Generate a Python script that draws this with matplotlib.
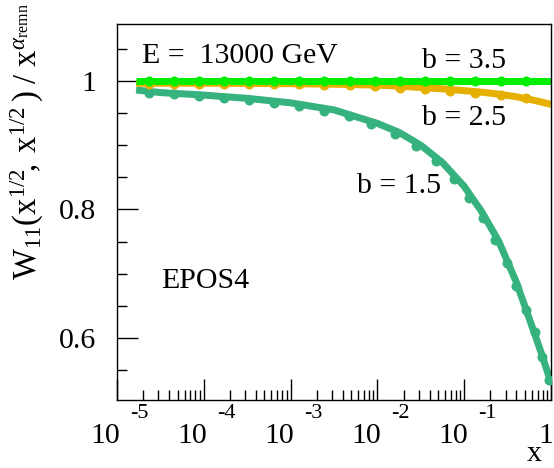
import numpy as np
import matplotlib
matplotlib.use("Agg")
import matplotlib.pyplot as plt
from matplotlib.transforms import blended_transform_factory

plt.rcParams['font.family'] = ['Liberation Serif', 'DejaVu Serif']
plt.rcParams['mathtext.fontset'] = 'custom'
plt.rcParams['mathtext.rm'] = 'Liberation Serif'
plt.rcParams['mathtext.it'] = 'Liberation Serif:italic'
plt.rcParams['mathtext.bf'] = 'Liberation Serif:bold'

# ---------------- data (log10 x, value) ----------------
dot_logx = [-4.63, -4.34, -4.05, -3.77, -3.48, -3.19, -2.90, -2.61,
            -2.32, -2.03, -1.74, -1.45, -1.16, -0.87, -0.58, -0.29]
b35_dots = [1.0, 1.0, 1.0, 1.0, 1.0, 1.0, 1.0, 1.0,
            1.0, 1.0, 1.0, 1.0, 1.0, 1.0, 1.0, 1.0]
b25_dots = [0.996, 0.996, 0.996, 0.996, 0.996, 0.9955, 0.995, 0.9945,
            0.994, 0.992, 0.9896, 0.9875, 0.9849, 0.9818, 0.9782, 0.9731]

b15_dot_logx = [-4.63, -4.34, -4.05, -3.77, -3.48, -3.19, -2.90, -2.62,
                -2.33, -2.07, -1.80, -1.55, -1.32, -1.12, -0.94, -0.78,
                -0.64, -0.51, -0.40, -0.29, -0.19, -0.10, -0.02]
b15_dots = [0.982, 0.979, 0.976, 0.973, 0.970, 0.965, 0.961, 0.954,
            0.945, 0.933, 0.918, 0.899, 0.876, 0.848, 0.818, 0.786,
            0.753, 0.716, 0.681, 0.644, 0.609, 0.571, 0.535]

line_logx = [-4.78, -4.5, -4.0, -3.5, -3.0, -2.5, -2.0, -1.75, -1.5,
             -1.25, -1.0, -0.8, -0.6, -0.4, -0.2, -0.1, 0.0]
b35_line = [1.0, 1.0, 1.0, 1.0, 1.0, 1.0, 1.0, 1.0, 1.0,
            1.0, 1.0, 1.0, 1.0, 1.0, 1.0, 1.0, 1.0]
b25_line = [0.9965, 0.9965, 0.9965, 0.9962, 0.9958, 0.995, 0.9935, 0.992, 0.9898,
            0.9878, 0.9850, 0.9826, 0.9795, 0.9755, 0.9700, 0.967, 0.9635]
b15_line = [0.986, 0.982, 0.978, 0.973, 0.966, 0.955, 0.934, 0.920, 0.900,
            0.873, 0.836, 0.797, 0.750, 0.687, 0.611, 0.572, 0.530]

x_decades = [-5, -4, -3, -2, -1]
y_ticks = [0.6, 0.8, 1.0]
y_ticklabels = ["0.6", "0.8", "1"]

c_green = '#00ee00'
c_orange = '#e6b000'
c_teal = '#36b27f'

# ---------------- figure ----------------
W, H = 554, 468
fig = plt.figure(figsize=(W / 100, H / 100), dpi=100)
ax = fig.add_axes([117 / W, 1 - 400 / H, (551 - 117) / W, (400 - 24) / H])

def px(v):
    return v * 0.72  # pixels -> points at dpi 100

for ly, dy, lx, dx, c in [
        (b15_line, b15_dots, line_logx, b15_dot_logx, c_teal),
        (b25_line, b25_dots, line_logx, dot_logx, c_orange),
        (b35_line, b35_dots, line_logx, dot_logx, c_green)]:
    ax.plot(10 ** np.array(lx), ly, color=c, lw=px(7), solid_capstyle='butt', zorder=2)
    ax.plot(10 ** np.array(dx), dy, 'o', color=c, ms=px(10), mec='none', zorder=3)

ax.set_xscale('log')
ax.set_xlim(1e-5, 1.0)
ax.set_ylim(0.5035, 1.0887)

ax.set_yticks(y_ticks)
ax.set_yticklabels(y_ticklabels)
ax.yaxis.set_minor_locator(matplotlib.ticker.MultipleLocator(0.05))
ax.xaxis.set_major_locator(matplotlib.ticker.LogLocator(base=10, numticks=20))
ax.xaxis.set_minor_locator(matplotlib.ticker.LogLocator(base=10, subs=np.arange(2, 10), numticks=20))
ax.xaxis.set_major_formatter(matplotlib.ticker.NullFormatter())
ax.xaxis.set_minor_formatter(matplotlib.ticker.NullFormatter())

ax.tick_params(which='both', direction='in', top=False, right=False, width=1, color='black')
ax.tick_params(which='major', length=px(21))
ax.tick_params(which='minor', length=px(10))
ax.tick_params(axis='y', which='major', pad=px(21), labelsize=21.5)
for s in ax.spines.values():
    s.set_linewidth(1.0)
    s.set_color('black')

# manual x tick labels (ROOT style)
tr = blended_transform_factory(ax.transData, ax.transAxes)
for d in x_decades:
    ax.annotate("10", xy=(10.0 ** d, 0), xycoords=tr, xytext=(px(3.5), -px(43)),
                textcoords='offset points', ha='right', va='baseline', fontsize=21.5,
                annotation_clip=False)
    ax.annotate("%d" % d, xy=(10.0 ** d, 0), xycoords=tr, xytext=(px(13.5), -px(18)),
                textcoords='offset points', ha='left', va='baseline', fontsize=16,
                annotation_clip=False)
ax.annotate("1", xy=(1.0, 0), xycoords=tr, xytext=(px(2.5), -px(43)),
            textcoords='offset points', ha='right', va='baseline', fontsize=21.5,
            annotation_clip=False)

# axis titles
fig.text(542 / W, 1 - 467 / H, "x", ha='right', va='bottom', fontsize=21.5)
fig.text(27 / W, 1 - 3 / H,
         r"$\mathrm{W}_{11}\!\,(\mathrm{x}^{1/2}\!,\;\mathrm{x}^{1/2}\,)\ /\ \mathrm{x}^{\alpha_{\mathrm{remn}}}$",
         rotation=90, ha='center', va='top', fontsize=23.5)

# annotations
fig.text(141.7 / W, 1 - 63.3 / H, "E =  13000 GeV", ha='left', va='baseline', fontsize=21.5)
fig.text(421.7 / W, 1 - 68 / H, "b = 3.5", ha='left', va='baseline', fontsize=21.5)
fig.text(421.7 / W, 1 - 125 / H, "b = 2.5", ha='left', va='baseline', fontsize=21.5)
fig.text(356.7 / W, 1 - 193 / H, "b = 1.5", ha='left', va='baseline', fontsize=21.5)
fig.text(160.7 / W, 1 - 288 / H, "EPOS4", ha='left', va='baseline', fontsize=21.5)

fig.savefig("out.png", dpi=100)
